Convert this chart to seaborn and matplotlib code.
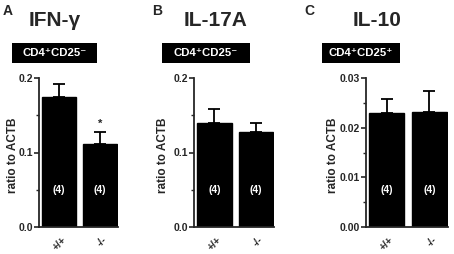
import matplotlib
matplotlib.use("Agg")
import matplotlib.pyplot as plt
import matplotlib.transforms as mtransforms
from matplotlib.patches import Rectangle
from matplotlib.ticker import MultipleLocator
import seaborn as sns
import pandas as pd

# ---- data ----
genotypes = ["+/+", "-/-"]
panel_letters = ["A", "B", "C"]
panel_titles = ["IFN-γ", "IL-17A", "IL-10"]
cell_labels = ["CD4⁺CD25⁻", "CD4⁺CD25⁻", "CD4⁺CD25⁺"]
ifng_mean = [0.174, 0.112]
ifng_sem = [0.018, 0.015]
il17a_mean = [0.140, 0.127]
il17a_sem = [0.018, 0.013]
il10_mean = [0.0229, 0.0232]
il10_sem = [0.0028, 0.0042]
n_labels = ["(4)", "(4)"]
y_max = [0.2, 0.2, 0.03]
y_major = [0.1, 0.1, 0.01]
y_minor = [0.05, 0.05, 0.005]
y_fmt = ["{:.1f}", "{:.1f}", "{:.2f}"]
significance = [["", "*"], ["", ""], ["", ""]]

means = [ifng_mean, il17a_mean, il10_mean]
sems = [ifng_sem, il17a_sem, il10_sem]

sns.set_theme(style="ticks")
plt.rcParams["font.family"] = ["Liberation Sans", "DejaVu Sans"]
plt.rcParams["font.weight"] = "bold"

W, H = 454, 254
fig = plt.figure(figsize=(W / 100, H / 100), dpi=100)

# axes boxes in pixels: left, right, top, bottom
ax_px = [(39, 118, 78, 227), (194, 274, 78, 227), (366, 448, 78, 227)]
title_x = [55, 216, 377]
box_px = [(12, 97), (162, 250), (322, 400)]
letter_x = [3, 152, 304]
ylabel_x = [13, 163, 333]

for i in range(3):
    l, r, t, b = ax_px[i]
    ax = fig.add_axes([l / W, (H - b) / H, (r - l) / W, (b - t) / H])
    df = pd.DataFrame({"genotype": genotypes, "value": means[i]})
    sns.barplot(data=df, x="genotype", y="value", ax=ax, color="black",
                width=0.83, errorbar=None, saturation=1, edgecolor="black")
    ax.errorbar([0, 1], means[i], yerr=[[0, 0], sems[i]], fmt="none",
                ecolor="black", elinewidth=1.3, capsize=4.3, capthick=1.3)
    ax.set_xlim(-0.49, 1.44)
    ax.set_ylim(0, y_max[i])
    ax.yaxis.set_major_locator(MultipleLocator(y_major[i]))
    ax.yaxis.set_minor_locator(MultipleLocator(y_minor[i]))
    ax.set_yticklabels([y_fmt[i].format(v) for v in ax.get_yticks()],
                       fontsize=7.5, fontweight="bold")
    ax.tick_params(axis="y", which="major", length=3.5, width=1.2, pad=1)
    ax.tick_params(axis="y", which="minor", length=2, width=1.0)
    ax.tick_params(axis="x", length=0, pad=4)
    ax.set_xticks([0, 1])
    ax.set_xticklabels(genotypes, rotation=45, ha="right", va="center",
                       rotation_mode="anchor", fontsize=7.5, fontweight="bold")
    for lab in ax.get_xticklabels():
        lab.set_transform(lab.get_transform() +
                          mtransforms.ScaledTranslation(4 / 72, -4 / 72, fig.dpi_scale_trans))
    ax.set_xlabel("")
    ax.set_ylabel("")
    sns.despine(ax=ax)
    for s in ["left", "bottom"]:
        ax.spines[s].set_linewidth(1.3)
    trans = mtransforms.blended_transform_factory(ax.transData, ax.transAxes)
    for j in range(2):
        ax.text(j, 0.25, n_labels[j], color="white", ha="center", va="center",
                fontsize=7.5, fontweight="bold", transform=trans)
        if significance[i][j]:
            ax.text(j, means[i][j] + sems[i][j] + 0.005, significance[i][j],
                    ha="center", va="bottom", fontsize=8, fontweight="bold")

    # panel letter, title, cell label box, y label
    fig.text(letter_x[i] / W, 1 - 11 / H, panel_letters[i], fontsize=10,
             fontweight="bold", ha="left", va="center")
    fig.text(title_x[i] / W, 1 - 20 / H, panel_titles[i], fontsize=15,
             fontweight="bold", ha="center", va="center")
    bl, br = box_px[i]
    fig.patches.append(Rectangle((bl / W, 1 - 63 / H), (br - bl) / W, 20 / H,
                                 transform=fig.transFigure, facecolor="black",
                                 edgecolor="none"))
    fig.text((bl + br) / 2 / W, 1 - 53 / H, cell_labels[i], color="white",
             fontsize=8.2, fontweight="bold", ha="center", va="center")
    fig.text(ylabel_x[i] / W, 1 - 155 / H, "ratio to ACTB", rotation=90,
             fontsize=8.5, fontweight="bold", ha="center", va="center")

fig.savefig("out.png", dpi=100)
